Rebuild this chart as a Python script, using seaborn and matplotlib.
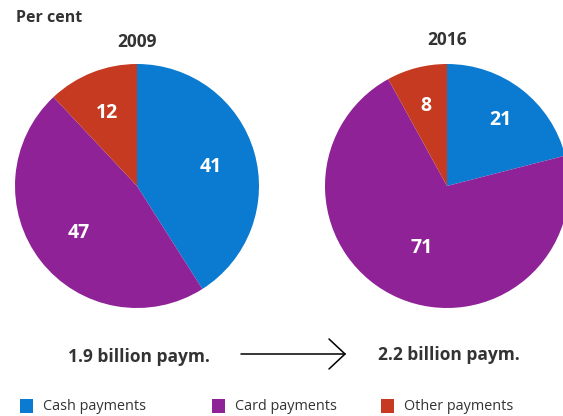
import matplotlib
matplotlib.use("Agg")
import matplotlib.pyplot as plt
from matplotlib.patches import Rectangle
from matplotlib.lines import Line2D
import numpy as np
import seaborn as sns

# Payment shares, per cent
categories = ["Cash payments", "Card payments", "Other payments"]
years = ["2009", "2016"]
shares_2009 = [41, 47, 12]
shares_2016 = [21, 71, 8]
totals = ["1.9 billion paym.", "2.2 billion paym."]

sns.set_theme(style="white")
plt.rcParams["font.family"] = ["Open Sans", "DejaVu Sans"]

colors = ["#0a7bd0", "#8e2296", "#c53a20"]
text_color = "#333333"

W, H = 563, 416
fig = plt.figure(figsize=(W / 100, H / 100), dpi=100)
fig.patch.set_facecolor("white")


def fx(x):
    return x / W


def fy(y):
    return 1 - y / H


def px_axes(cx, cy, r):
    """Axes spanning a square of radius r centred at pixel (cx, cy)."""
    ax = fig.add_axes([(cx - r) / W, (H - cy - r) / H, 2 * r / W, 2 * r / H])
    ax.set_xlim(-1, 1)
    ax.set_ylim(-1, 1)
    ax.set_aspect("equal")
    ax.axis("off")
    return ax


def draw_pie(ax, values, label_r):
    wedges, _ = ax.pie(values, colors=colors, startangle=90, counterclock=False,
                       radius=1.0, wedgeprops=dict(linewidth=0))
    for w, v, lr in zip(wedges, values, label_r):
        mid = np.deg2rad((w.theta1 + w.theta2) / 2)
        ax.text(lr * np.cos(mid), lr * np.sin(mid), f"{v}", color="white",
                ha="center", va="center_baseline", fontsize=14,
                fontweight="bold")
    ax.set_xlim(-1, 1)
    ax.set_ylim(-1, 1)
    return wedges


R = 122
ax1 = px_axes(137, 186, R)
draw_pie(ax1, shares_2009, [0.63, 0.6, 0.67])
ax2 = px_axes(447, 186, R)
draw_pie(ax2, shares_2016, [0.71, 0.53, 0.7])

# Titles
fig.text(fx(16), fy(18), "Per cent", fontsize=11.5, fontweight="bold",
         color=text_color, ha="left", va="center")
fig.text(fx(137), fy(42), years[0], fontsize=12.5, fontweight="bold",
         color=text_color, ha="center", va="center")
fig.text(fx(447), fy(40), years[1], fontsize=12.5, fontweight="bold",
         color=text_color, ha="center", va="center")

# Totals with arrow
fig.text(fx(139), fy(357), totals[0], fontsize=12.5, fontweight="bold",
         color=text_color, ha="center", va="center")
fig.text(fx(449), fy(355), totals[1], fontsize=12.5, fontweight="bold",
         color=text_color, ha="center", va="center")
fig.add_artist(Line2D([fx(241), fx(345)], [fy(354), fy(354)], color="black",
                      lw=1.1, transform=fig.transFigure))
fig.add_artist(Line2D([fx(329), fx(345), fx(329)], [fy(339), fy(354), fy(369)],
                      color="black", lw=1.1, transform=fig.transFigure,
                      solid_joinstyle="miter"))

# Legend
legend_x = [20, 212, 381]
for x, c, lab in zip(legend_x, colors, categories):
    fig.add_artist(Rectangle((fx(x), fy(413)), 13 / W, 14 / H,
                             transform=fig.transFigure, color=c, lw=0))
    fig.text(fx(x + 23), fy(406), lab, fontsize=10.4, color=text_color,
             ha="left", va="center")

fig.savefig("out.png", dpi=100, facecolor="white")
